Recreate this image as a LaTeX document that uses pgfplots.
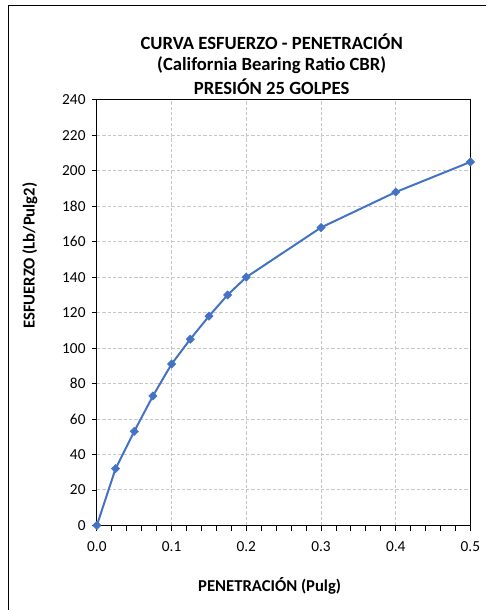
\documentclass[border=0pt]{standalone}
\usepackage{pgfplots}
\pgfplotsset{compat=1.18}
\usepackage{fontspec}
\setmainfont{Carlito}
\definecolor{serie}{HTML}{4472C4}
\definecolor{gridc}{HTML}{C6C6C6}
\begin{document}
\begin{tikzpicture}
\path (0,0) rectangle (365.25pt,458.25pt);
\draw[line width=1.1pt] (6pt,454pt) -- (365.25pt,454pt);
\draw[line width=1.1pt] (6.4pt,454pt) -- (6.4pt,0pt);
\node[font=\bfseries\fontsize{14}{16}\selectfont] at (204pt,426.75pt) {CURVA ESFUERZO - PENETRACIÓN};
\node[font=\bfseries\fontsize{14}{16}\selectfont] at (204pt,409.5pt) {(California Bearing Ratio CBR)};
\node[font=\bfseries\fontsize{14}{16}\selectfont] at (204pt,393pt) {PRESIÓN 25 GOLPES};
\node[font=\bfseries\fontsize{12.5}{14}\selectfont] at (202.5pt,18pt) {PENETRACIÓN (Pulg)};
\node[font=\bfseries\fontsize{12.5}{14}\selectfont, rotate=90] at (22.5pt,266.25pt) {ESFUERZO (Lb/Pulg2)};
\begin{axis}[
  at={(72.75pt,63.75pt)}, anchor=south west,
  scale only axis, width=280.5pt, height=319.5pt,
  xmin=0, xmax=0.5, ymin=0, ymax=240,
  xtick={0,0.1,...,0.5}, ytick={0,20,...,240},
  minor x tick num=4,
  xticklabel style={/pgf/number format/fixed, /pgf/number format/fixed zerofill, /pgf/number format/precision=1, yshift=-4.5pt},
  /pgf/number format/assume math mode=true,
  tick label style={font=\fontsize{11.5}{13}\selectfont},
  tick align=outside, major tick length=4pt, minor tick length=4pt,
  tick style={black, line width=0.6pt},
  ytick pos=left, xtick pos=bottom,
  yticklabel style={xshift=-1pt},
  grid=major, major grid style={gridc, dash pattern=on 2.5pt off 1.5pt, line width=0.7pt},
  axis line style={black, line width=0.8pt},
  clip=false,
]
\addplot[color=serie, line width=1.5pt, mark=square*, mark size=2.2pt, mark options={fill=serie, line width=0.4pt, rotate=45}] coordinates {
(0,0) (0.025,32) (0.05,53) (0.075,73) (0.1,91) (0.125,105) (0.15,118) (0.175,130) (0.2,140) (0.3,168) (0.4,188) (0.5,205)
};
\end{axis}
\end{tikzpicture}
\end{document}
